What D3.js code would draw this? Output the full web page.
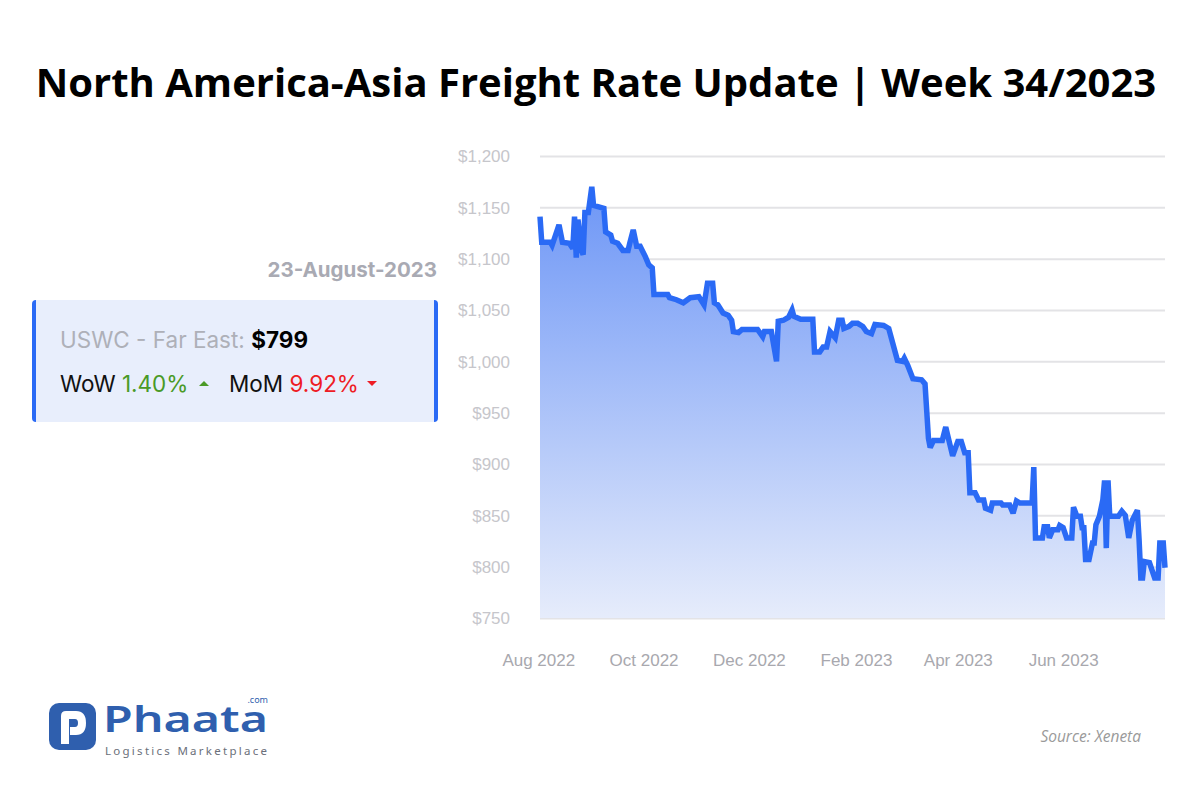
<!DOCTYPE html>
<html><head><meta charset="utf-8">
<script src="https://cdn.jsdelivr.net/npm/d3@7"></script>
<style>
html,body{margin:0;padding:0;background:#fff;}
svg{display:block;}
</style></head>
<body>
<svg id="chart" width="1200" height="800"></svg>
<script>
// ---- data ----
const dates = [
"2022-08-02","2022-08-03","2022-08-08","2022-08-09","2022-08-13","2022-08-15","2022-08-19","2022-08-21","2022-08-22","2022-08-23",
"2022-08-24","2022-08-26","2022-08-27","2022-08-28","2022-08-30","2022-09-01","2022-09-02","2022-09-04","2022-09-08","2022-09-09",
"2022-09-12","2022-09-13","2022-09-16","2022-09-19","2022-09-22","2022-09-23","2022-09-25","2022-09-27","2022-09-29","2022-10-02",
"2022-10-04","2022-10-06","2022-10-07","2022-10-15","2022-10-16","2022-10-20","2022-10-24","2022-10-28","2022-11-02","2022-11-05",
"2022-11-07","2022-11-10","2022-11-11","2022-11-13","2022-11-16","2022-11-19","2022-11-21","2022-11-22","2022-11-25","2022-11-27",
"2022-12-06","2022-12-09","2022-12-10","2022-12-14","2022-12-17","2022-12-18","2022-12-21","2022-12-24","2022-12-26","2022-12-27",
"2022-12-31","2023-01-07","2023-01-08","2023-01-11","2023-01-13","2023-01-15","2023-01-17","2023-01-20","2023-01-22","2023-01-24",
"2023-01-25","2023-01-28","2023-01-30","2023-02-02","2023-02-05","2023-02-07","2023-02-10","2023-02-12","2023-02-17","2023-02-20",
"2023-02-25","2023-02-28","2023-03-01","2023-03-03","2023-03-06","2023-03-11","2023-03-13","2023-03-15","2023-03-16","2023-03-18",
"2023-03-23","2023-03-25","2023-03-29","2023-04-01","2023-04-03","2023-04-05","2023-04-07","2023-04-08","2023-04-11","2023-04-13",
"2023-04-16","2023-04-17","2023-04-20","2023-04-21","2023-04-26","2023-04-27","2023-05-01","2023-05-03","2023-05-05","2023-05-07",
"2023-05-14","2023-05-15","2023-05-16","2023-05-20","2023-05-21","2023-05-23","2023-05-24","2023-05-26","2023-05-29","2023-05-30",
"2023-06-01","2023-06-03","2023-06-06","2023-06-07","2023-06-09","2023-06-11","2023-06-12","2023-06-13","2023-06-14","2023-06-16",
"2023-06-18","2023-06-19","2023-06-20","2023-06-22","2023-06-24","2023-06-25","2023-06-26","2023-06-27","2023-06-28","2023-07-03",
"2023-07-05","2023-07-07","2023-07-09","2023-07-11","2023-07-14","2023-07-15","2023-07-16","2023-07-17","2023-07-18","2023-07-21",
"2023-07-24","2023-07-26","2023-07-27","2023-07-29","2023-07-30"
];
const rates = [
1141,1116,1116,1113,1133,1116,1115,1110,1141,1101,
1138,1108,1104,1145,1145,1170,1152,1151,1149,1126,
1123,1117,1115,1108,1108,1115,1128,1112,1112,1102,
1094,1091,1065,1065,1062,1060,1057,1062,1063,1055,
1076,1076,1057,1055,1047,1045,1040,1029,1028,1031,
1031,1024,1029,1029,1000,1039,1040,1043,1050,1044,
1041,1041,1009,1009,1014,1014,1029,1023,1040,1040,
1032,1034,1037,1037,1034,1029,1027,1036,1035,1032,
1001,1000,1003,996,983,982,978,925,916,923,
923,936,908,922,922,911,911,872,872,865,
865,857,855,862,862,860,860,852,864,862,
862,897,828,828,839,839,828,836,836,840,
838,828,828,858,849,849,838,838,807,807,
823,823,841,849,865,884,818,884,849,849,
854,850,828,845,855,826,789,789,805,804,
789,789,823,823,799
];
const yTicks = [750,800,850,900,950,1000,1050,1100,1150,1200];
const xTickDates = ["2022-08-01","2022-10-01","2022-12-01","2023-02-01","2023-04-01","2023-06-01"];
const xTickLabels = ["Aug 2022","Oct 2022","Dec 2022","Feb 2023","Apr 2023","Jun 2023"];

const title = "North America-Asia Freight Rate Update | Week 34/2023";
const reportDate = "23-August-2023";
const laneName = "USWC - Far East:";
const laneRate = "$799";
const wowLabel = "WoW", wowValue = "1.40%";
const momLabel = "MoM", momValue = "9.92%";
const sourceText = "Source: Xeneta";

// ---- drawing ----
const parse = d3.utcParse("%Y-%m-%d");
const series = dates.map((d,i)=>({date:parse(d), value:rates[i]}));
const svg = d3.select("#chart");

const plot = {left:540, right:1165, top:156, bottom:618};
const x = d3.scaleUtc()
  .domain(d3.extent(series, d=>d.date))
  .range([plot.left, plot.right]);
const y = d3.scaleLinear().domain([750,1200]).range([plot.bottom, plot.top]);

// title
svg.append("text").attr("x",596).attr("y",97).attr("text-anchor","middle")
  .attr("font-family","'Open Sans', sans-serif").attr("font-weight",700)
  .attr("font-size",40).attr("fill","#000").text(title);

// gridlines + y labels
const yAxis = d3.axisLeft(y).tickValues(yTicks).tickSize(-(plot.right-plot.left)).tickPadding(30)
  .tickFormat(d=>"$"+d3.format(",")(d));
const gy = svg.append("g").attr("transform",`translate(${plot.left},0)`).call(yAxis);
gy.select(".domain").remove();
gy.selectAll(".tick line").attr("stroke","#e3e3e6").attr("stroke-width",2);
gy.selectAll(".tick text").attr("font-family","'Liberation Sans', Arial, sans-serif")
  .attr("font-size",17).attr("fill","#c6c6cb").attr("dy","0.35em");

// x labels
const xAxis = d3.axisBottom(x).tickValues(xTickDates.map(parse)).tickSize(0).tickPadding(0)
  .tickFormat((d,i)=>xTickLabels[i]);
const gx = svg.append("g").attr("transform",`translate(0,${plot.bottom+42})`).call(xAxis);
gx.select(".domain").remove();
gx.selectAll(".tick text").attr("font-family","'Liberation Sans', Arial, sans-serif")
  .attr("font-size",17).attr("fill","#a8a8ae").attr("dy","0.35em");

// gradient
const defs = svg.append("defs");
const grad = defs.append("linearGradient").attr("id","areaGrad")
  .attr("gradientUnits","userSpaceOnUse")
  .attr("x1",0).attr("x2",0).attr("y1",y(1170)).attr("y2",y(750));
grad.append("stop").attr("offset","0%").attr("stop-color","#6d96f6");
grad.append("stop").attr("offset","100%").attr("stop-color","#e6ecfb");

const area = d3.area().x(d=>x(d.date)).y0(y(750)).y1(d=>y(d.value));
svg.append("path").datum(series).attr("d",area).attr("fill","url(#areaGrad)");
const line = d3.line().x(d=>x(d.date)).y(d=>y(d.value));
svg.append("path").datum(series).attr("d",line).attr("fill","none")
  .attr("stroke","#2a6af5").attr("stroke-width",5.5).attr("stroke-linejoin","miter").attr("stroke-miterlimit",3);

// report date
svg.append("text").attr("x",437).attr("y",277).attr("text-anchor","end")
  .attr("font-family","Inter, sans-serif").attr("font-weight",700).attr("font-size",20.5)
  .attr("fill","#a9aab3").text(reportDate);

// info box
const box = svg.append("g");
box.append("rect").attr("x",32).attr("y",300).attr("width",406).attr("height",122).attr("rx",4).attr("fill","#2a6af5");
box.append("rect").attr("x",36).attr("y",300).attr("width",398).attr("height",122).attr("fill","#e8eefc");

const t1 = box.append("text").attr("x",60).attr("y",348).attr("font-family","Inter, sans-serif").attr("font-size",22.5);
t1.append("tspan").attr("fill","#aeb0b8").text(laneName+" ");
t1.append("tspan").attr("fill","#000").attr("font-weight",700).text(laneRate);

const t2 = box.append("text").attr("x",60).attr("y",392).attr("font-family","Inter, sans-serif").attr("font-size",22.5);
t2.append("tspan").attr("fill","#111").text(wowLabel+" ");
t2.append("tspan").attr("fill","#4a9a26").text(wowValue);
const t3 = box.append("text").attr("x",229).attr("y",392).attr("font-family","Inter, sans-serif").attr("font-size",22.5);
t3.append("tspan").attr("fill","#111").text(momLabel+" ");
t3.append("tspan").attr("fill","#ee1c25").text(momValue);
// arrows
box.append("path").attr("d","M199,386 L209,386 L204,381 Z").attr("fill","#4a9a26");
box.append("path").attr("d","M367,381 L377,381 L372,386 Z").attr("fill","#ee1c25");

// logo
const logo = svg.append("g");
logo.append("rect").attr("x",49).attr("y",703).attr("width",47).attr("height",47).attr("rx",10).attr("fill","#2f5fae");
logo.append("path").attr("d","M61,744 L61,716 Q61,711 66,711 L76,711 Q86,711 86,723 Q86,735 76,735 L70,735 L70,727 L75,727 Q78,727 78,723 Q78,719 75,719 L69,719 L69,744 Z")
  .attr("fill","#fff");
logo.append("text").attr("x",103).attr("y",732).attr("font-family","'Noto Sans', sans-serif").attr("font-weight",600)
  .attr("font-size",36).attr("fill","#2f5fae").attr("textLength",165).attr("lengthAdjust","spacingAndGlyphs").text("Phaata");
logo.append("text").attr("x",268).attr("y",703).attr("text-anchor","end").attr("font-family","'Noto Sans', sans-serif")
  .attr("font-size",9).attr("fill","#2f5fae").text(".com");
logo.append("text").attr("x",105).attr("y",755).attr("font-family","'Noto Sans', sans-serif")
  .attr("font-size",11.5).attr("fill","#6b6f7a").attr("textLength",162).attr("lengthAdjust","spacing").text("Logistics Marketplace");

// source
svg.append("text").attr("x",1141).attr("y",742).attr("text-anchor","end")
  .attr("font-family","'Open Sans', sans-serif").attr("font-style","italic").attr("font-size",15.5)
  .attr("fill","#9a9a9a").text(sourceText);
</script>
</body></html>
